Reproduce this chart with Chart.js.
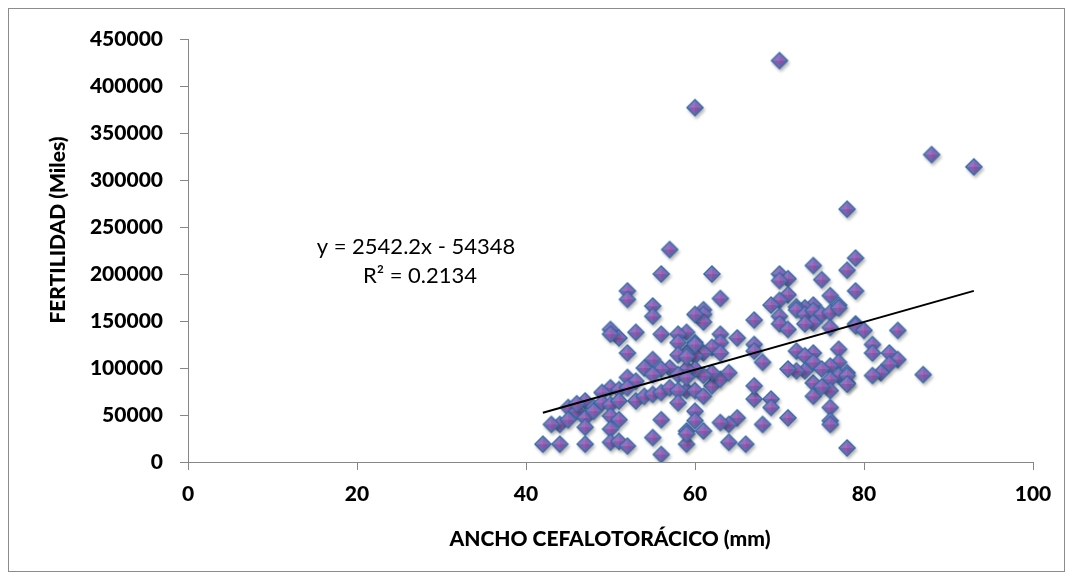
<!DOCTYPE html>
<html>
<head>
<meta charset="utf-8">
<script src="https://cdn.jsdelivr.net/npm/chart.js@4/dist/chart.umd.min.js"></script>
<style>
    html, body { margin: 0; padding: 0; background: #fff; }
    #wrap { width: 1073px; height: 580px; position: relative; }
</style>
</head>
<body>
<div id="wrap"><canvas id="chart" width="1073" height="580"></canvas></div>
<script>
// ancho cefalotoracico (mm) and fertilidad (miles)
const anchoMm = [
    70, 60, 88, 93, 78, 57, 56, 52, 52, 55, 62, 63, 61, 74, 75, 79, 78, 79, 70, 71,
    70, 76, 71, 70, 77, 69, 74, 73, 72,
    61, 61, 67, 70, 70, 71, 72, 73, 74, 75, 76, 77, 74, 73, 76, 79, 59, 60, 63, 65,
    63, 62, 63, 61, 60, 59, 67, 67, 68, 72, 74, 73, 74, 77, 77, 76, 75, 78, 77, 76,
    78, 74, 73, 72, 71, 74, 76, 75, 76, 76, 76, 78, 71, 68, 69, 69, 67, 67, 65, 64,
    63, 64, 66, 59, 59, 60, 60, 61, 59, 60, 61, 62, 63, 64, 62, 61, 60, 59,
    55, 50, 51, 50, 53, 56, 58, 58, 60, 60, 52, 58, 59, 55, 57, 56, 54, 55, 52, 53,
    58, 59, 50, 49, 51, 52, 53, 54, 55, 56, 57, 58, 58, 47, 48, 49, 50, 51, 45, 46,
    47, 50, 51, 44, 43, 45, 47, 50, 56, 55, 56, 42, 44, 47, 50, 51, 52, 59, 48, 46,
    79, 80, 84, 81, 81, 83, 84, 83, 82, 81, 87, 78, 78
];
const fertilidad = [
    427000, 377000, 327000, 314000, 269000, 226000, 200000, 182000, 173000, 166000,
    200000, 174000, 162000, 209000, 194000, 217000, 204000, 182000, 200000, 195000,
    193000, 177000, 178000, 172000, 167000, 167000, 167000, 164000, 165000,
    157000, 149000, 151000, 155000, 147000, 141000, 162000, 157000, 161000, 157000,
    159000, 164000, 148000, 147000, 143000, 147000, 138000, 127000, 136000, 132000,
    127000, 122000, 116000, 116000, 113000, 116000, 125000, 118000, 106000, 118000,
    116000, 113000, 106000, 120000, 106000, 102000, 99000, 95000, 92000, 88000,
    84000, 84000, 97000, 97000, 99000, 70000, 76000, 80000, 58000, 44000,
    40000, 15000, 47000, 40000, 67000, 58000, 67000, 81000, 47000, 40000,
    42000, 21000, 19000, 33000, 19000, 54000, 44000, 33000, 76000, 76000,
    70000, 81000, 88000, 95000, 95000, 92000, 99000, 99000,
    155000, 141000, 132000, 136000, 138000, 136000, 136000, 127000, 125000, 157000,
    116000, 114000, 112000, 109000, 100000, 99000, 100000, 93000, 90000, 86000,
    93000, 90000, 79000, 74000, 77000, 79000, 65000, 70000, 72000, 74000,
    79000, 76000, 63000, 65000, 58000, 63000, 61000, 65000, 58000, 54000,
    47000, 49000, 45000, 40000, 40000, 45000, 37000, 35000, 45000, 26000,
    8000, 19000, 19000, 19000, 21000, 22000, 17000, 30000, 54000, 62000,
    145000, 140000, 140000, 125000, 116000, 116000, 109000, 104000, 95000, 92000,
    93000, 92000, 83000
];

// linear trend shown on the chart
const trendSlope = 2542.2;
const trendIntercept = -54348;
const trendRange = [42, 93];
const eqLines = ["y = 2542.2x - 54348", "R\u00b2 = 0.2134"];

const xTitle = "ANCHO CEFALOTOR\u00c1CICO (mm)";
const yTitle = "FERTILIDAD (Miles)";

const points = anchoMm.map((x, i) => ({ x: x, y: fertilidad[i] }));
const trendPoints = trendRange.map(x => ({ x: x, y: trendSlope * x + trendIntercept }));

function diamond(g, cx, cy, r) {
    g.beginPath();
    g.moveTo(cx, cy - r);
    g.lineTo(cx + r, cy);
    g.lineTo(cx, cy + r);
    g.lineTo(cx - r, cy);
    g.closePath();
}

// bevelled diamond like the office marker
function makeMarker() {
    const c = document.createElement("canvas");
    c.width = 28;
    c.height = 28;
    const g = c.getContext("2d");
    const cx = 14, cy = 14, r = 9;

    g.save();
    g.filter = "blur(1.6px)";
    g.fillStyle = "rgba(0,0,0,0.28)";
    diamond(g, cx + 1.5, cy + 2.5, r);
    g.fill();
    g.restore();

    g.fillStyle = "#36679f";
    diamond(g, cx, cy, r);
    g.fill();

    const ri = r - 1.7;
    const grad = g.createRadialGradient(cx, cy, 0, cx, cy, ri);
    grad.addColorStop(0, "#a35ab5");
    grad.addColorStop(0.55, "#8564b7");
    grad.addColorStop(1, "#5580c6");
    g.fillStyle = grad;
    diamond(g, cx, cy, ri);
    g.fill();

    // faces
    const faces = [
        [[cx - ri, cy], [cx, cy - ri], "rgba(255,255,255,0.10)"],
        [[cx, cy - ri], [cx + ri, cy], "rgba(255,255,255,0.02)"],
        [[cx + ri, cy], [cx, cy + ri], "rgba(0,0,0,0.10)"],
        [[cx, cy + ri], [cx - ri, cy], "rgba(0,0,0,0.04)"]
    ];
    faces.forEach(f => {
        g.beginPath();
        g.moveTo(cx, cy);
        g.lineTo(f[0][0], f[0][1]);
        g.lineTo(f[1][0], f[1][1]);
        g.closePath();
        g.fillStyle = f[2];
        g.fill();
    });
    return c;
}

const frameAndText = {
    id: "frameAndText",
    beforeDraw(chart) {
        const ctx = chart.ctx;
        ctx.save();
        ctx.fillStyle = "#fff";
        ctx.fillRect(0, 0, chart.width, chart.height);
        ctx.strokeStyle = "#8c8c8c";
        ctx.lineWidth = 1;
        ctx.strokeRect(8.5, 8.5, 1056, 563);
        ctx.restore();
    },
    afterDraw(chart) {
        const ctx = chart.ctx;
        ctx.save();
        ctx.fillStyle = "#000";
        ctx.textAlign = "center";
        ctx.textBaseline = "middle";

        ctx.font = "22px Lato";
        ctx.fillText(eqLines[0], 416, 247);
        ctx.fillText(eqLines[1], 420, 276);

        ctx.font = "900 21px Lato";
        ctx.fillText(xTitle, 610, 539);

        ctx.translate(58, 230);
        ctx.rotate(-Math.PI / 2);
        ctx.fillText(yTitle, 0, 0);
        ctx.restore();
    }
};

const axisColor = "#868686";
const tickFont = { family: "Lato", size: 21, weight: "900" };

new Chart(document.getElementById("chart"), {
    type: "scatter",
    data: {
        datasets: [
            {
                type: "line",
                data: trendPoints,
                borderColor: "#000",
                borderWidth: 2,
                pointRadius: 0,
                fill: false,
                order: 0
            },
            {
                data: points,
                pointStyle: makeMarker(),
                pointRadius: 9,
                order: 1
            }
        ]
    },
    options: {
        responsive: false,
        animation: false,
        layout: { padding: { left: 10, right: 40, top: 39, bottom: 0 } },
        plugins: {
            legend: { display: false },
            tooltip: { enabled: false }
        },
        scales: {
            x: {
                type: "linear",
                min: 0,
                max: 100,
                ticks: {
                    stepSize: 20, color: "#000", font: tickFont, padding: 12, maxRotation: 0,
                    callback: v => String(v)
                },
                grid: { drawOnChartArea: false, drawTicks: true, tickLength: 8, color: axisColor },
                border: { color: axisColor, width: 1 },
                afterFit(scale) { scale.height = 118; }
            },
            y: {
                type: "linear",
                min: 0,
                max: 450000,
                ticks: {
                    stepSize: 50000, color: "#000", font: tickFont, padding: 17,
                    callback: v => String(v)
                },
                grid: { drawOnChartArea: false, drawTicks: true, tickLength: 8, color: axisColor },
                border: { color: axisColor, width: 1 },
                afterFit(scale) { scale.width = 178; }
            }
        }
    },
    plugins: [frameAndText]
});
</script>
</body>
</html>
